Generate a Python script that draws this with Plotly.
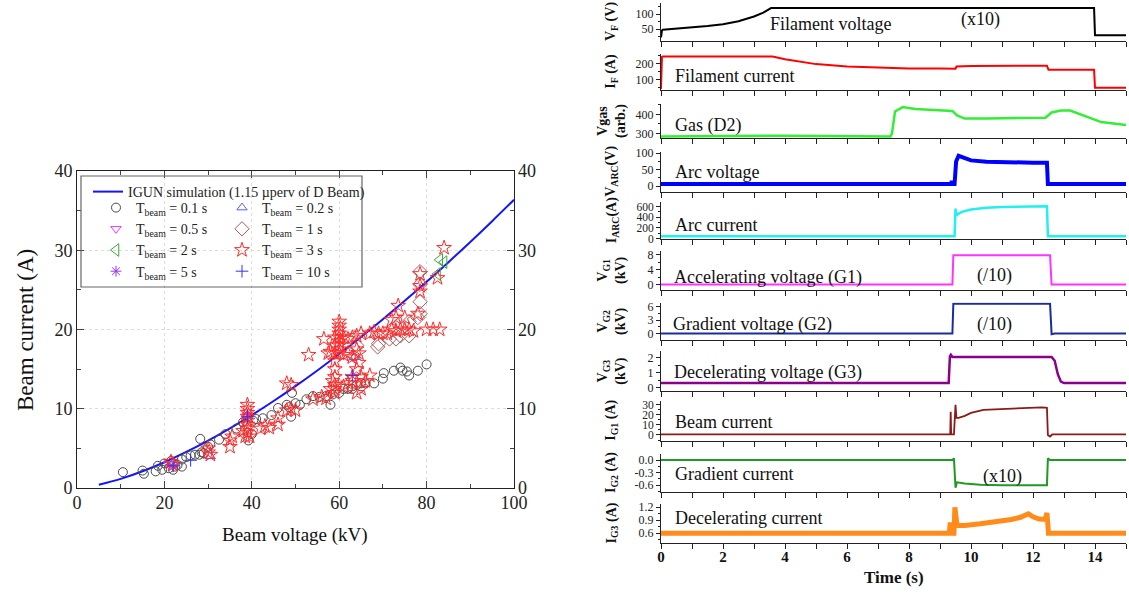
import plotly.graph_objects as go

W, H = 1129, 595
def px_x(p): return p / W
def px_y(p): return 1 - p / H

FONT = "Liberation Serif, Times New Roman, serif"

# ---------------- Left panel data ----------------
IGUN_V = [5, 10, 15, 20, 25, 30, 35, 40, 45, 50, 55, 60, 65, 70, 75, 80, 85, 90, 95, 100]
IGUN_I = [0.41, 1.15, 2.11, 3.25, 4.55, 5.98, 7.53, 9.20, 10.98, 12.86, 14.83, 16.90,
          19.06, 21.30, 23.62, 26.02, 28.50, 31.05, 33.67, 36.37]

V_01 = [10.5, 15, 15.3, 18, 18.5, 19.5, 20, 21, 21.5, 22, 22.5, 23, 24, 24, 25, 26, 27, 28, 28.2, 28.5,
        29, 30, 30.5, 32.5, 34, 36.5, 38, 39, 39.2, 40, 40.3, 41, 42.5, 44.5, 46, 48, 48.5, 49, 49.2, 50,
        51, 52.5, 54, 55.5, 57, 58, 58.5, 60, 61, 62, 63, 64, 65, 66, 68, 70, 70.2, 72.5, 74, 74.5,
        75.5, 76, 78, 80]
I_01 = [2.0, 2.2, 1.8, 2.1, 2.8, 2.3, 3.1, 2.5, 3.4, 2.3, 2.7, 2.9, 2.7, 3.6, 3.9, 4.1, 4.2, 4.2, 6.2, 4.5,
        4.4, 5.2, 5.5, 6.1, 6.8, 7.5, 8.3, 9.0, 6.0, 6.8, 8.5, 8.7, 8.8, 9.2, 10.1, 10.5, 10.2, 9.0, 12.0, 10.7,
        10.5, 11.2, 11.6, 11.5, 11.6, 10.5, 11.8, 12.0, 12.5, 12.5, 12.5, 13.0, 13.2, 13.2, 13.2, 13.8, 14.5, 14.8, 15.2, 14.8,
        14.7, 14.2, 14.8, 15.6]

V_02 = [22, 30.5, 63.5]
I_02 = [3.2, 4.0, 16.5]
V_05 = [21, 39]
I_05 = [3.0, 9.2]
V_1 = [64, 68.8, 69, 71.5, 73, 74, 76, 76, 78, 78.5, 78.5, 78.5, 78.5]
I_1 = [18.0, 17.8, 18.2, 18.8, 18.8, 19.2, 19.2, 21.0, 21.5, 22.0, 23.5, 25.7, 27.3]
V_2 = [82.5, 83, 84]
I_2 = [27.0, 28.8, 28.5]
V_3 = [21.5, 22, 30, 30, 30.5, 35, 35, 35.5, 38, 38.5, 39, 39, 39, 39, 39, 39, 39, 39, 39.5,
       42, 43, 44, 46, 46, 48, 48, 49, 49, 50, 53, 54, 56, 56.5, 57, 57.5, 58, 58, 58.5,
       59, 59, 59, 59, 59, 59, 59, 59, 59, 60, 60, 60, 60, 60, 60, 60, 60, 60,
       61, 62, 63, 64, 65, 61, 62, 63, 64, 64.5, 63, 64, 64.5, 65, 63, 61, 62, 64, 65, 67, 66,
       67, 68, 69, 70, 71, 72, 73, 74, 75, 76, 77, 80, 81.5, 83, 72, 73, 73.5, 75, 78, 78.5, 78.5, 78.5,
       82.5, 84]
I_3 = [3.3, 3.0, 4.5, 5.0, 4.2, 5.2, 6.0, 6.5, 7.2, 6.5, 7.0, 7.5, 8.0, 8.5, 9.0, 9.5, 10.0, 10.5, 6.5,
       7.5, 7.8, 7.6, 8.0, 8.8, 9.8, 13.2, 13.0, 10.0, 9.8, 16.8, 11.2, 11.5, 18.8, 11.3, 17.0, 17.2, 12.5, 13.5,
       12.0, 12.5, 13.0, 14.0, 15.0, 16.0, 17.0, 18.0, 19.0, 17.0, 17.5, 18.0, 18.5, 19.0, 19.5, 20.0, 20.5, 21.0,
       19.0, 18.8, 19.0, 19.2, 19.5, 16.8, 17.0, 16.5, 17.5, 17.0, 14.0, 15.0, 15.8, 14.0, 13.5, 12.8, 13.2, 12.0, 12.5, 14.2, 13.5,
       19.5, 19.7, 19.5, 19.5, 19.5, 20.0, 19.8, 20.0, 20.0, 20.0, 19.8, 20.0, 20.0, 20.0, 21.2, 21.5, 23.0, 21.5, 22.0, 25.5, 27.0, 24.8,
       26.5, 30.3]
V_5 = [22, 39]
I_5 = [2.7, 9.3]
V_10 = [22, 26, 39, 63]
I_10 = [2.8, 3.5, 9.0, 14.2]

# ---------------- Right panel data ----------------
T_VF = [0, 0.03, 0.06, 0.5, 1, 1.5, 2, 2.5, 3, 3.3, 3.55, 13.97, 14.0, 15]
VF = [22, 45, 48, 51, 55, 60, 66, 76, 92, 105, 120, 120, 29, 29]
T_IF = [0, 0.03, 0.06, 3.6, 4, 5, 6, 7, 8, 9, 9.5, 9.53, 10, 12.45, 12.5, 13.97, 14.0, 15]
IF = [40, 240, 242, 242, 225, 195, 180, 172, 168, 167, 166, 180, 183, 185, 160, 160, 48, 48]
T_GAS = [0, 3.5, 4, 7.4, 7.45, 7.55, 7.8, 8.2, 9.4, 9.55, 9.8, 10.5, 12.4, 12.6, 12.9, 13.2, 13.6, 14.2, 15]
GAS = [285, 286, 289, 285, 300, 415, 438, 428, 418, 395, 378, 378, 383, 410, 420, 420, 395, 360, 345]
T_VARC = [0, 9.35, 9.38, 9.41, 9.47, 9.52, 9.6, 9.7, 10, 10.5, 11, 12, 12.45, 12.48, 15]
VARC = [6, 6, 15, 6, 6, 75, 92, 88, 78, 74, 72, 71, 71, 6, 6]
T_IARC = [0, 9.47, 9.5, 9.53, 9.56, 9.7, 10, 10.5, 11, 12, 12.45, 12.48, 15]
IARC = [45, 45, 560, 430, 450, 500, 545, 575, 590, 600, 605, 45, 45]
T_VG1 = [0, 9.4, 9.43, 12.55, 12.6, 15]
VG1 = [0.1, 0.1, 7.8, 7.8, 0.1, 0.1]
T_VG2 = [0, 9.4, 9.43, 12.55, 12.6, 12.7, 15]
VG2 = [0.05, 0.05, 6.6, 6.6, -0.1, 0.05, 0.05]
T_VG3 = [0, 9.28, 9.32, 9.35, 9.4, 12.6, 12.7, 12.8, 12.9, 13.0, 15]
VG3 = [0.3, 0.3, 2.1, 2.2, 2.05, 2.05, 1.8, 0.9, 0.4, 0.3, 0.3]
T_IG1 = [0, 9.33, 9.345, 9.36, 9.45, 9.5, 9.53, 9.6, 9.8, 10, 10.4, 11, 11.5, 12, 12.3, 12.45, 12.48, 12.55, 12.62, 15]
IG1 = [0.5, 0.5, 23, 0.5, 0.5, 30, 17, 17, 19, 22, 25, 26, 26.5, 27, 27.5, 27, 0, -1.5, 0.5, 0.5]
T_IG2 = [0, 9.4, 9.45, 9.48, 9.5, 9.55, 9.8, 10.3, 11, 12.45, 12.48, 12.55, 15]
IG2 = [0, 0, 0.04, -0.5, -0.66, -0.53, -0.56, -0.59, -0.6, -0.6, 0.04, 0, 0]
T_IG3 = [0, 9.3, 9.33, 9.36, 9.45, 9.48, 9.55, 9.8, 10.3, 10.8, 11.3, 11.6, 11.85, 12.0, 12.2, 12.4, 12.45, 12.5, 15]
IG3 = [0.6, 0.6, 0.85, 0.6, 0.6, 1.2, 0.78, 0.78, 0.82, 0.86, 0.92, 0.97, 1.05, 0.98, 0.93, 0.92, 1.07, 0.6, 0.6]

fig = go.Figure(layout=dict(template="none"))

# ---------- Left panel ----------
fig.add_trace(go.Scatter(x=IGUN_V, y=IGUN_I, mode="lines", line=dict(color="#1414ff", width=2, shape="spline"),
                         name="IGUN simulation (1.15 µperv of D Beam)", legend="legend", xaxis="x", yaxis="y"))

def sc(x, y, sym, color, size, name, leg):
    fig.add_trace(go.Scatter(x=x, y=y, mode="markers", name=name, legend=leg, xaxis="x", yaxis="y",
                             marker=dict(symbol=sym, size=size, color=color, line=dict(width=1, color=color))))

sc(V_01, I_01, "circle-open", "#4a4a4a", 9, "T<sub>beam</sub> = 0.1 s", "legend2")
sc(V_05, I_05, "triangle-down-open", "#ff33ff", 9, "T<sub>beam</sub> = 0.5 s", "legend2")
sc(V_2, I_2, "triangle-left-open", "#3aaa3a", 11, "T<sub>beam</sub> = 2 s", "legend2")
sc(V_5, I_5, "asterisk-open", "#9933ff", 9, "T<sub>beam</sub> = 5 s", "legend2")
sc(V_02, I_02, "triangle-up-open", "#5a5aff", 9, "T<sub>beam</sub> = 0.2 s", "legend3")
sc(V_1, I_1, "diamond-open", "#b05a5a", 11, "T<sub>beam</sub> = 1 s", "legend3")
sc(V_3, I_3, "star-open", "#ff2a2a", 11, "T<sub>beam</sub> = 3 s", "legend3")
sc(V_10, I_10, "cross-thin-open", "#3333ff", 9, "T<sub>beam</sub> = 10 s", "legend3")

L0, L1, T0, T1 = 77, 514, 171, 488
tickf = dict(family=FONT, size=18, color="#222")
fig.update_layout(
    xaxis=dict(domain=[px_x(L0), px_x(L1)], range=[0, 100], anchor="y", tickvals=[0, 20, 40, 60, 80, 100],
               ticks="inside", ticklen=7, showline=True, linecolor="#222", mirror="ticks", tickfont=tickf,
               minor=dict(ticks="inside", ticklen=4, dtick=10), showgrid=True, gridcolor="#dddddd",
               griddash="dot", zeroline=False, automargin=False, ticklabelstandoff=-2),
    yaxis=dict(domain=[px_y(T1), px_y(T0)], range=[0, 40], anchor="x", tickvals=[0, 10, 20, 30, 40],
               ticks="inside", ticklen=7, showline=True, linecolor="#222", mirror="ticks", tickfont=tickf,
               minor=dict(ticks="inside", ticklen=4, dtick=5), showgrid=True, gridcolor="#dddddd",
               griddash="dot", zeroline=False, automargin=False),
    yaxis2=dict(overlaying="y", side="right", anchor="x", range=[0, 40], tickvals=[0, 10, 20, 30, 40],
                ticks="inside", ticklen=7, tickfont=tickf, showgrid=False, zeroline=False, automargin=False,
                minor=dict(ticks="inside", ticklen=4, dtick=5), ticklabelstandoff=3),
)
fig.add_trace(go.Scatter(x=[None], y=[None], xaxis="x", yaxis="y2", showlegend=False, hoverinfo="skip"))

legfont = dict(family=FONT, size=14, color="#222")
legcommon = dict(xanchor="left", yanchor="top", bgcolor="rgba(0,0,0,0)", borderwidth=0,
                 font=legfont, tracegroupgap=0)
fig.update_layout(
    legend=dict(x=px_x(88), y=px_y(176), **legcommon),
    legend2=dict(x=px_x(96), y=px_y(192), **legcommon),
    legend3=dict(x=px_x(222), y=px_y(192), **legcommon),
)

shapes = [dict(type="rect", xref="paper", yref="paper", x0=px_x(81), x1=px_x(362), y0=px_y(287), y1=px_y(176),
               line=dict(color="#666", width=1.2), fillcolor="rgba(0,0,0,0)", layer="above")]

def ann(text, x, y, size, xanchor="center", yanchor="middle", angle=0):
    return dict(text=text, x=px_x(x), y=px_y(y), xref="paper", yref="paper", xanchor=xanchor,
                yanchor=yanchor, textangle=angle, showarrow=False,
                font=dict(family=FONT, size=size, color="#111"))

annotations = [
    ann("Beam current (A)", 25, 330, 23, angle=-90),
    ann("Beam voltage (kV)", 295, 535, 19),
]

# ---------- Right panel ----------
panels = [
    (T_VF, VF, "#000000", 2, [10, 137], [50, 100], ["50", "100"], 25, (3, 41), "<b>V<sub>F</sub> (V)</b>"),
    (T_IF, IF, "#ff0000", 2, [37, 258], [100, 200], ["100", "200"], 50, (54, 89.5), "<b>I<sub>F</sub> (A)</b>"),
    (T_GAS, GAS, "#33ee33", 2.5, [277, 454], [300, 400], ["300", "400"], 50, (104, 138), "<b>Vgas<br>(arb.)</b>"),
    (T_VARC, VARC, "#0000ff", 4, [-18, 105], [0, 50, 100], ["0", "50", "100"], 25, (151.5, 192), "<b>V<sub>ARC</sub>(V)</b>"),
    (T_IARC, IARC, "#22f0f0", 2.5, [-8, 693], [0, 200, 400, 600], ["0", "200", "400", "600"], 100, (201.5, 239), "<b>I<sub>ARC</sub>(A)</b>"),
    (T_VG1, VG1, "#ff33ff", 2, [-1.23, 9.04], [0, 4, 8], ["0", "4", "8"], 2, (250.5, 289.5), "<b>V<sub>G1</sub><br>(kV)</b>"),
    (T_VG2, VG2, "#1c2c9c", 2, [-1.28, 6.9], [0, 3, 6], ["0", "3", "6"], 1.5, (302.5, 339.5), "<b>V<sub>G2</sub><br>(kV)</b>"),
    (T_VG3, VG3, "#8b008b", 2.5, [-0.23, 2.49], [0, 1, 2], ["0", "1", "2"], 0.5, (350.5, 391), "<b>V<sub>G3</sub><br>(kV)</b>"),
    (T_IG1, IG1, "#8b1a1a", 1.8, [-6, 34.3], [0, 10, 20, 30], ["0", "10", "20", "30"], 5, (400.5, 441), "<b>I<sub>G1</sub> (A)</b>"),
    (T_IG2, IG2, "#229922", 2, [-0.76, 0.144], [-0.6, -0.3, 0.0], ["-0.6", "-0.3", "0.0"], 0.15, (454, 492), "<b>I<sub>G2</sub> (A)</b>"),
    (T_IG3, IG3, "#ff8c1a", 5, [0.376, 1.276], [0.6, 0.9, 1.2], ["0.6", "0.9", "1.2"], 0.15, (504, 543), "<b>I<sub>G3</sub> (A)</b>"),
]

RX0, RX1 = 661, 1126
TIME_TICKS = list(range(0, 16))
for i, (t, v, col, lw, yr, tv, tt, mdt, (top, bot), ytitle) in enumerate(panels):
    n = i + 3
    xa, ya = f"x{n}", f"y{n}"
    fig.add_trace(go.Scatter(x=t, y=v, mode="lines", line=dict(color=col, width=lw), showlegend=False,
                             xaxis=xa, yaxis=ya))
    last = (i == len(panels) - 1)
    fig.layout[f"xaxis{n}"] = dict(
        domain=[px_x(RX0), px_x(RX1)], range=[0, 15], anchor=ya, showline=True, linecolor="#222",
        linewidth=1, ticks="outside", ticklen=5, tickcolor="#222", automargin=False,
        tickvals=TIME_TICKS, ticktext=[str(k) if k % 2 == 0 else "" for k in TIME_TICKS],
        showticklabels=last, showgrid=False, zeroline=False, ticklabelstandoff=-5,
        tickfont=dict(family=FONT, size=15, color="#111", weight="bold"))
    fig.layout[f"yaxis{n}"] = dict(
        domain=[px_y(bot), px_y(top)], range=yr, anchor=xa, showline=True, linecolor="#222", linewidth=1,
        ticks="outside", ticklen=4, tickcolor="#222", tickvals=tv, ticktext=tt, showgrid=False, zeroline=False,
        automargin=False, tickfont=dict(family=FONT, size=11.5 if len(tv) > 3 else 12, color="#222"),
        minor=dict(ticks="outside", ticklen=2, dtick=mdt, tick0=tv[0], tickcolor="#222"))
    annotations.append(ann(ytitle, 612, (top + bot) / 2, 14, angle=-90))

labels = [
    ("Filament voltage", 768, 24, "left"), ("(x10)", 980, 19, "center"),
    ("Filament current", 673, 76, "left"), ("Gas (D2)", 673, 125, "left"),
    ("Arc voltage", 673, 172, "left"), ("Arc current", 673, 225, "left"),
    ("Accelerating voltage (G1)", 672, 277, "left"), ("(/10)", 994, 275, "center"),
    ("Gradient voltage (G2)", 671, 324, "left"), ("(/10)", 994, 325, "center"),
    ("Decelerating voltage (G3)", 672, 372, "left"), ("Beam current", 673, 422, "left"),
    ("Gradient current", 673, 474, "left"), ("(x10)", 1003, 476, "center"),
    ("Decelerating current", 673, 518, "left"),
]
for txt, x, y, anc in labels:
    annotations.append(ann(txt, x, y, 18, xanchor=anc))
annotations.append(ann("<b>Time (s)</b>", 894, 577, 17))

fig.update_layout(width=W, height=H, margin=dict(l=0, r=0, t=0, b=0), paper_bgcolor="white",
                  plot_bgcolor="white", annotations=annotations, shapes=shapes,
                  font=dict(family=FONT, color="#222"))

fig.write_html("out.html", config={"displayModeBar": False},
               post_script="document.body.style.margin='0px';document.body.style.overflow='hidden';")
